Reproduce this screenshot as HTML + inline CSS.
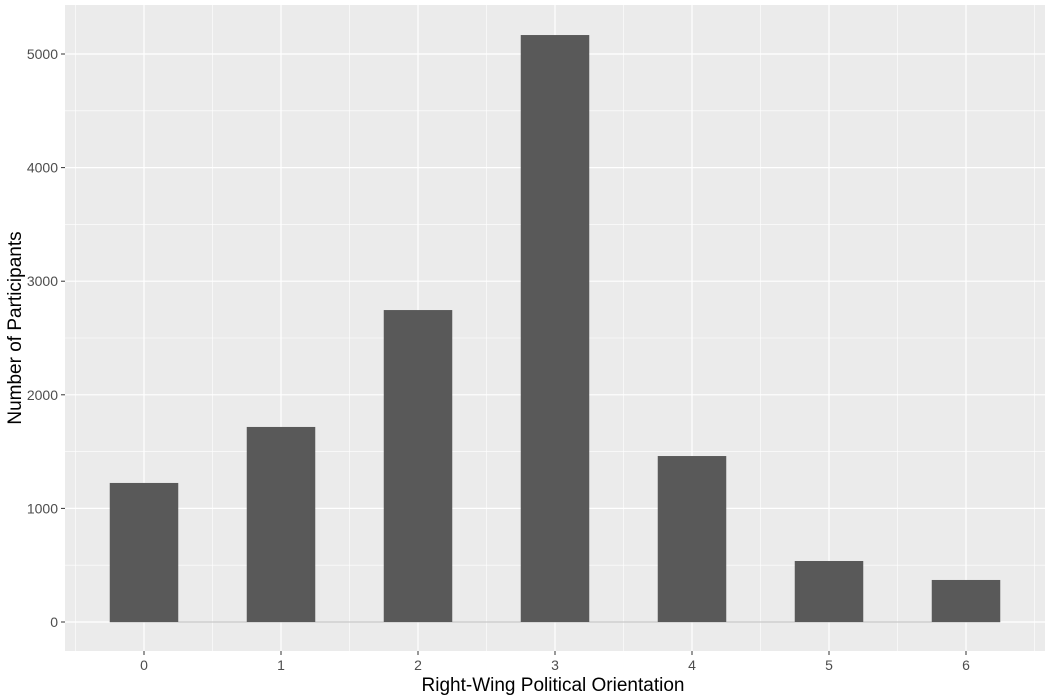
<!DOCTYPE html>
<html><head><meta charset="utf-8"><style>
html,body{margin:0;padding:0;background:#fff;}
svg{display:block;font-family:"Liberation Sans",Arial,sans-serif;}
</style></head><body>
<svg id="chart" width="1050" height="700">
<rect x="65" y="5" width="980" height="646" fill="#ebebeb"/>
<g id="grid"></g><g id="bars"></g><g id="axes"></g>
<text x="553" y="691" text-anchor="middle" font-size="19" fill="#000">Right-Wing Political Orientation</text>
<text transform="translate(21,328) rotate(-90)" text-anchor="middle" font-size="19" fill="#000">Number of Participants</text>
</svg>
<script>
const cats=[0,1,2,3,4,5,6];
const vals=[1224,1717,2746,5167,1461,537,370];
const yTicks=[0,1000,2000,3000,4000,5000];
const ns="http://www.w3.org/2000/svg";
const X=v=>144+v*137;
const Y=v=>622-v*0.1136;
const L=65,R=1045,T=5,B=651;
function mk(tag,attrs,parent){const e=document.createElementNS(ns,tag);for(const k in attrs)e.setAttribute(k,attrs[k]);document.getElementById(parent).appendChild(e);return e;}
// minor grid
for(let v=500;v<5600;v+=1000){const l=mk('line',{x1:L,x2:R,y1:Y(v),y2:Y(v),stroke:'#fff','stroke-width':0.6},'grid');

}
for(let c=-0.5;c<=6.5;c+=1){const l=mk('line',{x1:X(c),x2:X(c),y1:T,y2:B,stroke:'#fff','stroke-width':0.6},'grid');

}
yTicks.forEach(v=>{const l=mk('line',{x1:L,x2:R,y1:Y(v),y2:Y(v),stroke:'#fff','stroke-width':1.2},'grid');


const t=mk('line',{x1:61,x2:65,y1:Y(v),y2:Y(v),stroke:'#333','stroke-width':1},'axes');


const tx=mk('text',{x:58,y:Y(v)+5,'text-anchor':'end','font-size':14,fill:'#4d4d4d'},'axes');tx.textContent=v;

});
cats.forEach(c=>{const l=mk('line',{x1:X(c),x2:X(c),y1:T,y2:B,stroke:'#fff','stroke-width':1.2},'grid');


const t=mk('line',{x1:X(c),x2:X(c),y1:B,y2:B+4,stroke:'#333','stroke-width':1},'axes');


const tx=mk('text',{x:X(c),y:B+19,'text-anchor':'middle','font-size':14,fill:'#4d4d4d'},'axes');tx.textContent=c;

});
const base=mk('line',{x1:X(-0.25),x2:X(6.25),y1:Y(0),y2:Y(0),stroke:'#bdbdbd','stroke-width':1},'bars');


cats.forEach((c,i)=>{const b=mk('rect',{x:X(c-0.25),y:Y(vals[i]),width:X(c+0.25)-X(c-0.25),height:Y(0)-Y(vals[i]),fill:'#595959'},'bars');

});
</script>
</body></html>
